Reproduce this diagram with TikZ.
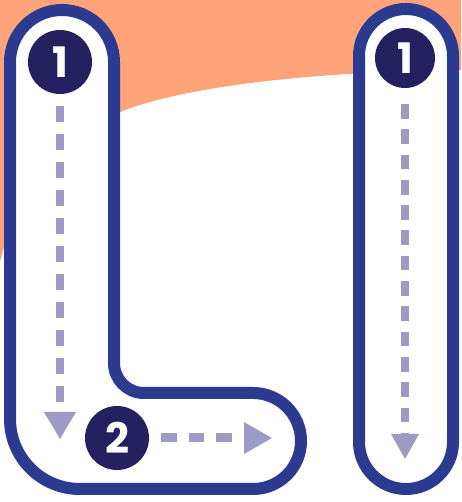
\documentclass[tikz,border=0pt]{standalone}
\usepackage{fontspec}
\newfontfamily\numfont{Poppins}
\usetikzlibrary{arrows.meta}
\definecolor{bgorange}{HTML}{FFA47A}
\definecolor{outline}{HTML}{2C3A8F}
\definecolor{navy}{HTML}{252060}
\definecolor{dashcol}{HTML}{9D9BC3}
\tikzset{
  letter/.style={draw=outline, line width=12pt, fill=white, line join=round},
  numcircle/.style={circle, fill=navy, minimum size=64pt, inner sep=0pt, text=white, font=\numfont\bfseries\fontsize{42}{42}\selectfont},
  dashline/.style={draw=dashcol, line width=8pt, line cap=butt},
}
\begin{document}
\begin{tikzpicture}[x=1pt,y=1pt]
\useasboundingbox (0,0) rectangle (461,502);
% background
\fill[bgorange] (0,502) -- (461,502) -- (461,432)
  .. controls (300,430) and (180,414) .. (120,390)
  .. controls (60,367) and (15,302) .. (0,240) -- cycle;
% letter L
\path[letter] (10,440) arc[start angle=180, end angle=0, radius=52]
  -- (114,139) arc[start angle=180, end angle=270, radius=30]
  -- (253,109) arc[start angle=90, end angle=-90, radius=48]
  -- (80,13) arc[start angle=270, end angle=180, radius=70]
  -- cycle;
% letter I
\path[letter] (359,446) arc[start angle=180, end angle=0, radius=47]
  -- (453,60) arc[start angle=0, end angle=-180, radius=47]
  -- cycle;
% arrows
\coordinate (a1s) at (60,396);
\coordinate (a1e) at (60,63);
\coordinate (a2s) at (161,64);
\coordinate (a2e) at (272,64);
\coordinate (a3s) at (405,398);
\coordinate (a3e) at (405,43);
\draw[dashline, dash pattern=on 16pt off 12pt, -{Triangle[length=27pt, width=32pt, line width=0pt]}] (a1s) -- (a1e);
\draw[dashline, line width=9pt, dash pattern=on 15.5pt off 12.2pt, -{Triangle[length=28pt, width=32pt, line width=0pt]}] (a2s) -- (a2e);
\draw[dashline, dash pattern=on 14.7pt off 10.6pt, -{Triangle[length=25pt, width=28pt, line width=0pt]}] (a3s) -- (a3e);
% numbers
\node[numcircle] (n1) at (60,440) {1};
\node[numcircle] (n2) at (117,64) {2};
\node[numcircle, minimum size=60pt] (n3) at (405,444) {1};
\end{tikzpicture}
\end{document}
